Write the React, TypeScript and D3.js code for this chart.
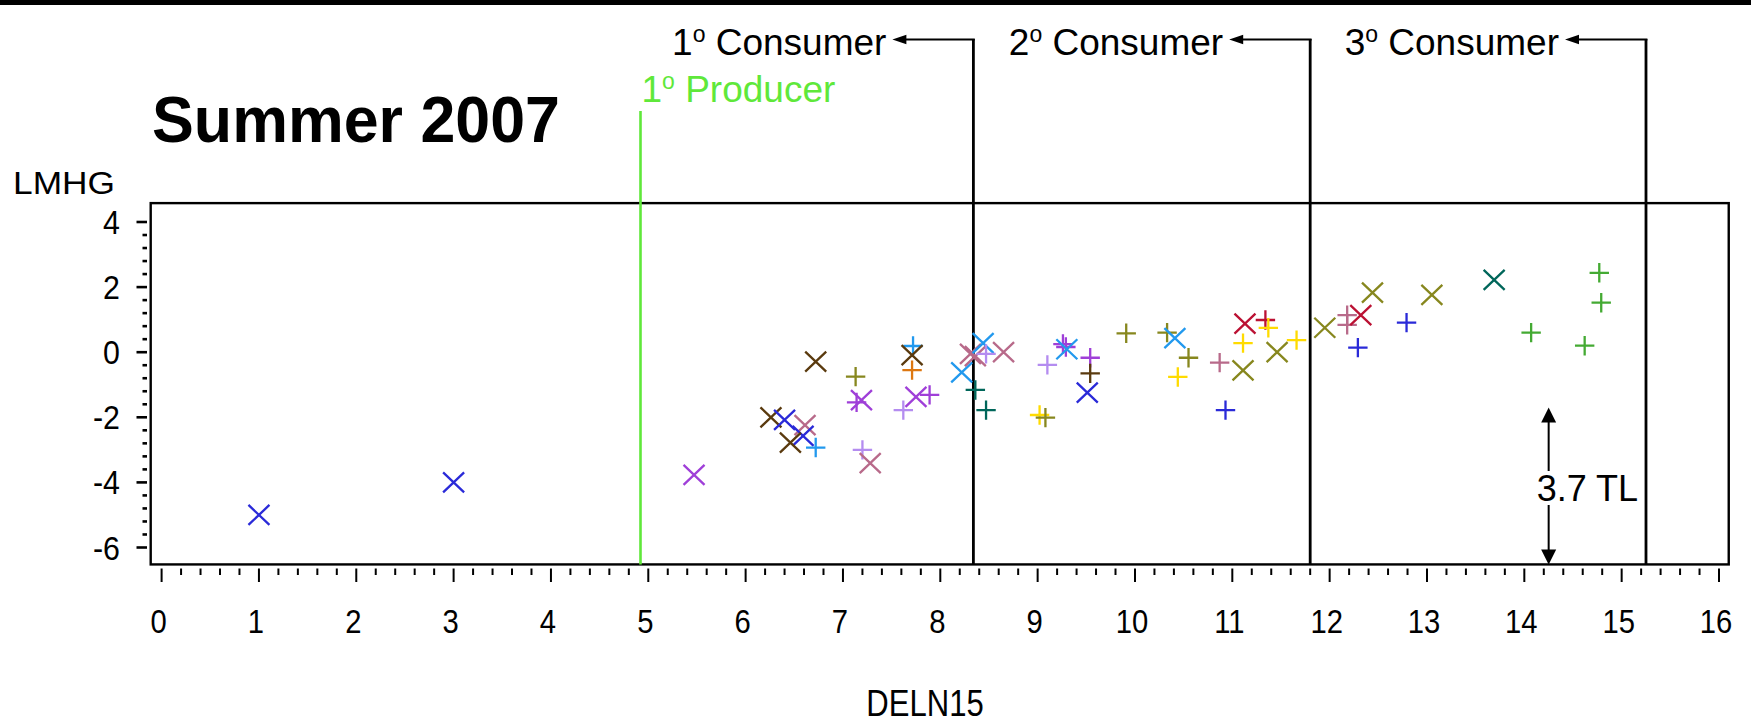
import React, { useEffect, useRef } from "react";
import * as d3 from "d3";

// values
const deln15 = [
  1.0, 3.0, 5.47, 6.26, 6.4, 6.61, 6.59, 6.46, 6.72, 6.72, 7.13, 7.14, 7.19, 7.2, 7.28, 7.62,
  7.75, 7.89, 7.72, 7.71, 7.71, 8.22, 8.36, 8.47, 8.31, 8.36, 8.44, 8.47, 8.65, 9.1, 9.26, 9.29,
  9.3, 9.54, 9.54, 9.51, 9.02, 9.08, 9.91, 10.33, 10.41, 10.55, 10.44, 10.87, 10.93, 11.11, 11.11,
  11.13, 11.34, 11.37, 11.46, 11.66, 11.95, 12.18, 12.18, 12.32, 12.29, 12.44, 12.79, 13.05,
  13.69, 14.07, 14.62, 14.77, 14.79,
];
const lmhg = [
  -5.0, -4.0, -3.77, -2.0, -2.08, -2.24, -2.57, -2.78, -2.93, -0.29, -0.75, -1.54, -1.47, -3.0,
  -3.41, -1.78, -1.37, -1.31, 0.19, -0.09, -0.55, -0.62, -1.16, -1.78, -0.05, -0.12, 0.28, -0.05,
  0.0, -0.39, 0.25, 0.16, 0.09, -0.17, -0.65, -1.24, -1.93, -2.01, 0.58, 0.6, 0.43, -0.17, -0.76,
  -0.32, -1.78, -0.56, 0.28, 0.88, 0.99, 0.75, 0.0, 0.37, 0.75, 1.14, 0.84, 1.14, 0.14, 1.83,
  0.91, 1.76, 2.22, 0.6, 0.2, 2.44, 1.52,
];
const symbols = [
  "x", "x", "x", "x", "x", "x", "x", "x", "+", "x", "+", "+", "x", "+", "x", "+",
  "x", "+", "+", "x", "+", "x", "+", "+", "x", "x", "x", "+", "x", "+", "+", "+",
  "x", "+", "+", "x", "+", "+", "+", "+", "x", "+", "+", "+", "+", "x", "+",
  "x", "+", "+", "x", "+", "x", "+", "+", "x", "+", "x", "+", "x",
  "x", "+", "+", "+", "+",
];
const groups = [
  "blue", "blue", "purple", "brown", "blue", "mauve", "blue", "brown", "ltblue", "brown", "olive",
  "purple", "purple", "lavender", "mauve", "lavender", "purple", "purple", "ltblue", "brown",
  "orange", "ltblue", "teal", "teal", "mauve", "mauve", "ltblue", "lavender", "mauve", "lavender",
  "purple", "purple", "ltblue", "purple", "brown", "blue", "yellow", "olive", "olive", "olive",
  "ltblue", "olive", "yellow", "mauve", "blue", "olive", "yellow", "darkred", "darkred", "yellow",
  "olive", "yellow", "olive", "mauve", "mauve", "darkred", "blue", "olive", "blue", "olive",
  "teal", "green", "green", "green", "green",
];
const groupNames = ["blue", "purple", "lavender", "mauve", "brown", "olive", "ltblue", "orange", "yellow", "teal", "darkred", "green"];
const groupColors = ["#2a2ad8", "#9f3fd8", "#b48cf0", "#b86a8a", "#5a3a0e", "#87871e", "#2299ee", "#dd7711", "#ffdb00", "#00665a", "#bb1133", "#44aa33"];

const xTicks = d3.range(0, 17, 1);
const yTicks = [-6, -4, -2, 0, 2, 4];
const producerLevel = 4.92;
const consumerLevels = [8.34, 11.8, 15.25];
const consumerLabels = ["1", "2", "3"];
const tlArrow = { x: 14.25, from: -6.52, to: -1.7, label: "3.7 TL" };

const FONT = "'Liberation Sans', Arial, Helvetica, sans-serif";

const App = () => {
  const ref = useRef<SVGSVGElement>(null);

  useEffect(() => {
    const width = 1751,
      height = 723;
    const svg = d3.select(ref.current);
    svg.selectAll("*").remove();

    const x = d3.scaleLinear().domain([0, 16]).range([161.6, 1719]);
    const y = d3.scaleLinear().domain([-6, 4]).range([547.5, 222]);
    const color = d3.scaleOrdinal<string, string>().domain(groupNames).range(groupColors);

    const fx0 = x(-0.112),
      fx1 = x(16.1),
      fy0 = y(4.58),
      fy1 = y(-6.52);

    // axis text in the picture is a bit condensed
    function narrowText(g: any, tx: number, ty: number, sx: number, size: number, anchor: string, str: string) {
      return g
        .append("text")
        .attr("transform", `translate(${tx},${ty}) scale(${sx},1)`)
        .attr("text-anchor", anchor)
        .attr("font-family", FONT)
        .attr("font-size", size)
        .text(str);
    }

    svg.append("rect").attr("x", 0).attr("y", 0).attr("width", width).attr("height", height).attr("fill", "#fff");
    svg.append("rect").attr("x", 0).attr("y", 0).attr("width", width).attr("height", 5).attr("fill", "#000");

    // title + axis labels
    svg
      .append("text")
      .attr("x", 152)
      .attr("y", 142)
      .attr("font-family", FONT)
      .attr("font-weight", "bold")
      .attr("font-size", 65)
      .attr("textLength", 408)
      .attr("lengthAdjust", "spacingAndGlyphs")
      .text("Summer 2007");

    svg
      .append("text")
      .attr("x", 13)
      .attr("y", 194)
      .attr("font-family", FONT)
      .attr("font-size", 31)
      .attr("textLength", 102)
      .attr("lengthAdjust", "spacingAndGlyphs")
      .text("LMHG");

    narrowText(svg, 925, 716, 0.84, 37, "middle", "DELN15");

    // y ticks
    const yMinor = d3.range(-6, 4.001, 0.4);
    svg
      .append("g")
      .selectAll("line")
      .data(yMinor)
      .enter()
      .append("line")
      .attr("x1", (d) => (yTicks.some((t) => Math.abs(t - d) < 1e-6) ? 136.5 : 142.5))
      .attr("x2", 147)
      .attr("y1", (d) => y(d))
      .attr("y2", (d) => y(d))
      .attr("stroke", "#000")
      .attr("stroke-width", 2.6);

    const yLab = svg.append("g");
    yTicks.forEach(function (d) {
      narrowText(yLab, 120, y(d) + 12, 0.92, 33, "end", String(d));
    });

    // x ticks
    const xMinor = d3.range(0, 16.001, 0.2);
    svg
      .append("g")
      .selectAll("line")
      .data(xMinor)
      .enter()
      .append("line")
      .attr("x1", (d) => x(d))
      .attr("x2", (d) => x(d))
      .attr("y1", 568.5)
      .attr("y2", (d) => (Math.abs(d - Math.round(d)) < 1e-6 ? 582 : 575))
      .attr("stroke", "#000")
      .attr("stroke-width", 2);

    const xLab = svg.append("g");
    xTicks.forEach(function (d) {
      narrowText(xLab, x(d) - 3, 633, 0.86, 34, "middle", String(d));
    });

    // frame
    svg
      .append("rect")
      .attr("x", fx0)
      .attr("y", fy0)
      .attr("width", fx1 - fx0)
      .attr("height", fy1 - fy0)
      .attr("fill", "none")
      .attr("stroke", "#000")
      .attr("stroke-width", 2.4);

    // producer line
    const green = "#5fe83a";
    svg
      .append("line")
      .attr("x1", x(producerLevel))
      .attr("x2", x(producerLevel))
      .attr("y1", 111)
      .attr("y2", fy1)
      .attr("stroke", green)
      .attr("stroke-width", 2.6);
    const prod = svg
      .append("text")
      .attr("x", x(producerLevel) + 1)
      .attr("y", 101.5)
      .attr("font-family", FONT)
      .attr("font-size", 37)
      .attr("fill", green);
    prod.append("tspan").text("1");
    prod.append("tspan").attr("font-size", 23).attr("baseline-shift", "super").text("o");
    prod.append("tspan").text(" Producer");

    // consumer lines with arrows
    consumerLevels.forEach(function (lvl, i) {
      const lx = x(lvl);
      const tip = lx - 81;
      svg
        .append("line")
        .attr("x1", lx)
        .attr("x2", lx)
        .attr("y1", 39)
        .attr("y2", fy1)
        .attr("stroke", "#000")
        .attr("stroke-width", 2.8);
      svg
        .append("line")
        .attr("x1", lx + 1.4)
        .attr("x2", tip + 12)
        .attr("y1", 39.5)
        .attr("y2", 39.5)
        .attr("stroke", "#000")
        .attr("stroke-width", 2);
      svg
        .append("path")
        .attr("d", `M${tip},39.5 L${tip + 14},34.8 L${tip + 14},44.2 Z`)
        .attr("fill", "#000");
      const t = svg
        .append("text")
        .attr("x", tip - 6)
        .attr("y", 54.5)
        .attr("text-anchor", "end")
        .attr("font-family", FONT)
        .attr("font-size", 37)
        .attr("fill", "#000");
      t.append("tspan").text(consumerLabels[i]);
      t.append("tspan").attr("font-size", 23).attr("baseline-shift", "super").text("o");
      t.append("tspan").text(" Consumer");
    });

    // points
    const xPath = "M-10.5,-10 L10.5,10 M-10.5,10 L10.5,-10";
    const plusPath = "M-9.7,0 H9.7 M0,-9.7 V9.7";
    svg
      .append("g")
      .selectAll("path")
      .data(d3.range(deln15.length))
      .enter()
      .append("path")
      .attr("transform", (i) => `translate(${x(deln15[i])},${y(lmhg[i])})`)
      .attr("d", (i) => (symbols[i] === "x" ? xPath : plusPath))
      .attr("fill", "none")
      .attr("stroke", (i) => color(groups[i]))
      .attr("stroke-width", 2.3);

    // 3.7 TL arrow
    const ax = x(tlArrow.x);
    const aTop = y(tlArrow.to);
    const aBot = y(tlArrow.from);
    svg
      .append("line")
      .attr("x1", ax)
      .attr("x2", ax)
      .attr("y1", aTop + 10)
      .attr("y2", 471)
      .attr("stroke", "#000")
      .attr("stroke-width", 2);
    svg
      .append("line")
      .attr("x1", ax)
      .attr("x2", ax)
      .attr("y1", 505)
      .attr("y2", aBot - 10)
      .attr("stroke", "#000")
      .attr("stroke-width", 2);
    svg
      .append("path")
      .attr("d", `M${ax},${aTop} L${ax - 7.5},${aTop + 15} L${ax + 7.5},${aTop + 15} Z`)
      .attr("fill", "#000");
    svg
      .append("path")
      .attr("d", `M${ax},${aBot} L${ax - 7.5},${aBot - 15} L${ax + 7.5},${aBot - 15} Z`)
      .attr("fill", "#000");
    svg
      .append("text")
      .attr("x", ax - 12)
      .attr("y", 501)
      .attr("font-family", FONT)
      .attr("font-size", 36)
      .text(tlArrow.label);
  }, []);

  return (
    <svg
      ref={ref}
      width={1751}
      height={723}
      style={{ position: "absolute", left: 0, top: 0, display: "block" }}
    />
  );
};

export default App;
